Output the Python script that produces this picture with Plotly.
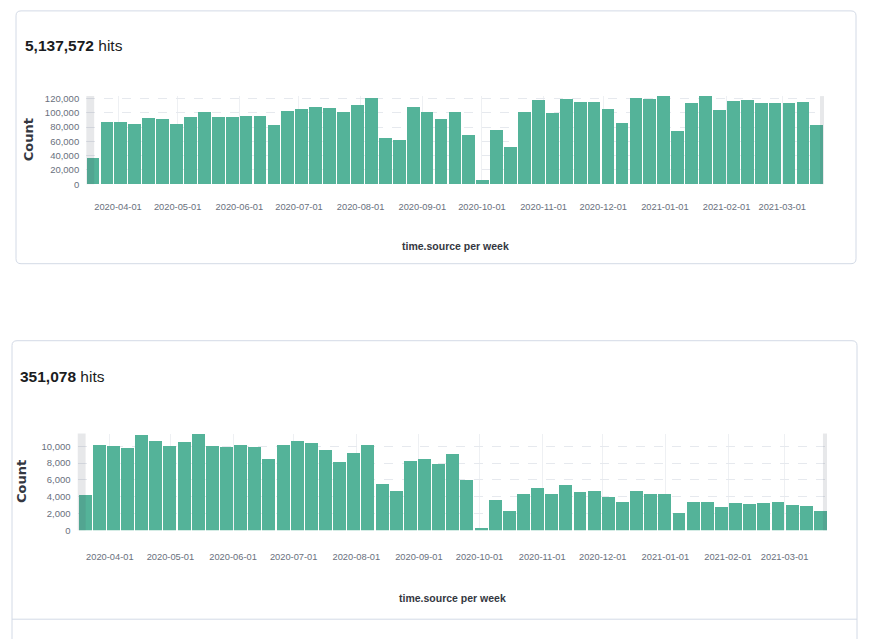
import plotly.graph_objects as go

# ---------------- data ----------------
weeks = [
    "2020-03-16", "2020-03-23", "2020-03-30", "2020-04-06", "2020-04-13", "2020-04-20", "2020-04-27",
    "2020-05-04", "2020-05-11", "2020-05-18", "2020-05-25", "2020-06-01", "2020-06-08", "2020-06-15",
    "2020-06-22", "2020-06-29", "2020-07-06", "2020-07-13", "2020-07-20", "2020-07-27", "2020-08-03",
    "2020-08-10", "2020-08-17", "2020-08-24", "2020-08-31", "2020-09-07", "2020-09-14", "2020-09-21",
    "2020-09-28", "2020-10-05", "2020-10-12", "2020-10-19", "2020-10-26", "2020-11-02", "2020-11-09",
    "2020-11-16", "2020-11-23", "2020-11-30", "2020-12-07", "2020-12-14", "2020-12-21", "2020-12-28",
    "2021-01-04", "2021-01-11", "2021-01-18", "2021-01-25", "2021-02-01", "2021-02-08", "2021-02-15",
    "2021-02-22", "2021-03-01", "2021-03-08", "2021-03-15",
]

counts_top = [
    36200, 87000, 87000, 83800, 93000, 91100, 83400, 93400, 100300, 94300, 94300, 94800, 94800, 82400,
    102600, 105300, 108500, 106700, 100800, 110400, 120200, 65000, 62300, 108500, 100300, 91100, 100300,
    68200, 6400, 76000, 51300, 101200, 117700, 99800, 118600, 115000, 115000, 105300, 85200, 120000,
    118600, 123200, 74200, 113100, 122700, 103000, 116300, 117700, 113100, 114000, 114000, 115400, 82000,
]

counts_bottom = [
    4200, 10230, 10070, 9840, 11370, 10660, 10040, 10580, 11520, 10150, 10000, 10190, 9920, 8550,
    10270, 10740, 10470, 9640, 8150, 9250, 10230, 5530, 4740, 8310, 8550, 8000, 9130,
    6080, 390, 3720, 2350, 4430, 5060, 4390, 5410, 4660, 4700, 4000, 3370, 4700,
    4350, 4350, 2120, 3370, 3370, 2780, 3250, 3210, 3330, 3410, 3060, 2900, 2310,
]

month_ticks = [
    "2020-04-01", "2020-05-01", "2020-06-01", "2020-07-01", "2020-08-01", "2020-09-01",
    "2020-10-01", "2020-11-01", "2020-12-01", "2021-01-01", "2021-02-01", "2021-03-01",
]

totals = ["5,137,572", "351,078"]
x_title = "time.source per week"
y_title = "Count"
range_start, range_end = "2020-03-20", "2021-03-20"
axis_start, axis_end = "2020-03-16", "2021-03-22"

# ---------------- style ----------------
W, H = 875, 639
FONT = "Liberation Sans, Arial, sans-serif"
GREEN = "#54B399"
DAY = 86400000


def px(x):
    return x / W


def py(y):
    return 1 - y / H


def card(x0, y0, x1, y1, r=5):
    rx, ry = r / W, r / H
    X0, X1 = px(x0), px(x1)
    Y0, Y1 = py(y1), py(y0)  # Y0 bottom, Y1 top (paper)
    return (f"M {X0+rx},{Y1} L {X1-rx},{Y1} Q {X1},{Y1} {X1},{Y1-ry} "
            f"L {X1},{Y0+ry} Q {X1},{Y0} {X1-rx},{Y0} L {X0+rx},{Y0} "
            f"Q {X0},{Y0} {X0},{Y0+ry} L {X0},{Y1-ry} Q {X0},{Y1} {X0+rx},{Y1} Z")


fig = go.Figure()

fig.add_trace(go.Bar(x=weeks, y=counts_top, xaxis="x", yaxis="y", marker_color=GREEN,
                     marker_line_width=0, offset=0.3 * DAY, width=6.4 * DAY, hoverinfo="x+y"))
fig.add_trace(go.Bar(x=weeks, y=counts_bottom, xaxis="x2", yaxis="y2", marker_color=GREEN,
                     marker_line_width=0, offset=0.3 * DAY, width=6.4 * DAY, hoverinfo="x+y"))

common_x = dict(type="date", tickvals=month_ticks, tickformat="%Y-%m-%d", showgrid=True,
                gridcolor="#eef0f3", gridwidth=1, zeroline=False, showline=False, ticks="",
                tickfont=dict(family=FONT, size=9.3, color="#69707d"),
                range=[axis_start, axis_end], fixedrange=True)
common_y = dict(showgrid=True, gridcolor="#e6e9ee", griddash="dash", gridwidth=1, zeroline=False,
                showline=False, ticks="", tickformat=",d",
                tickfont=dict(family=FONT, size=9.5, color="#69707d"), ticklabelstandoff=6,
                fixedrange=True)

fig.update_layout(
    width=W, height=H, margin=dict(l=0, r=0, t=0, b=0),
    paper_bgcolor="white", plot_bgcolor="rgba(0,0,0,0)", showlegend=False, bargap=0,
    xaxis=dict(common_x, domain=[px(86.2), px(824)], anchor="y", ticklabelstandoff=15),
    yaxis=dict(common_y, domain=[py(183.5), py(94.3)], anchor="x",
               range=[0, max(counts_top)], dtick=20000),
    xaxis2=dict(common_x, domain=[px(77.5), px(827)], anchor="y2", ticklabelstandoff=19),
    yaxis2=dict(common_y, domain=[py(534), py(436)], anchor="x2",
                range=[0, max(counts_bottom)], dtick=2000),
)

shapes = [
    dict(type="path", path=card(16, 8, 856, 264), xref="paper", yref="paper",
         line=dict(color="#d3dae6", width=1), fillcolor="rgba(0,0,0,0)", layer="below"),
    dict(type="path", path=card(12, 342, 857, 660), xref="paper", yref="paper",
         line=dict(color="#d3dae6", width=1), fillcolor="rgba(0,0,0,0)", layer="below"),
    dict(type="line", xref="paper", yref="paper", x0=px(12), x1=px(857), y0=py(624), y1=py(624),
         line=dict(color="#d3dae6", width=1)),
]
for xr, yr in (("x", "y domain"), ("x2", "y2 domain")):
    for a, b in ((axis_start, range_start), (range_end, axis_end)):
        shapes.append(dict(type="rect", xref=xr, yref=yr, x0=a, x1=b, y0=0, y1=1, layer="above",
                           fillcolor="rgba(69,75,90,0.13)", line_width=0))
fig.update_layout(shapes=shapes)

ann = []
for total, tx, ty in ((totals[0], 23, 43), (totals[1], 18, 378)):
    ann.append(dict(text=f"<b>{total}</b> hits", x=px(tx), y=py(ty), xref="paper", yref="paper",
                    xanchor="left", yanchor="middle", showarrow=False,
                    font=dict(family=FONT, size=15.5, color="#1a1c21")))
for cx, cy in ((455, 246), (452, 603)):
    ann.append(dict(text=f"<b>{x_title}</b>", x=px(cx), y=py(cy), xref="paper", yref="paper",
                    xanchor="center", yanchor="middle", showarrow=False,
                    font=dict(family=FONT, size=10.5, color="#343741")))
for cx, cy in ((28, 139), (22, 485)):
    ann.append(dict(text=f"<b>{y_title}</b>", x=px(cx), y=py(cy), xref="paper", yref="paper",
                    xanchor="center", yanchor="middle", showarrow=False, textangle=-90,
                    font=dict(family="DejaVu Sans, sans-serif", size=13, color="#343741")))
fig.update_layout(annotations=ann)

fig.write_html("out.html")
